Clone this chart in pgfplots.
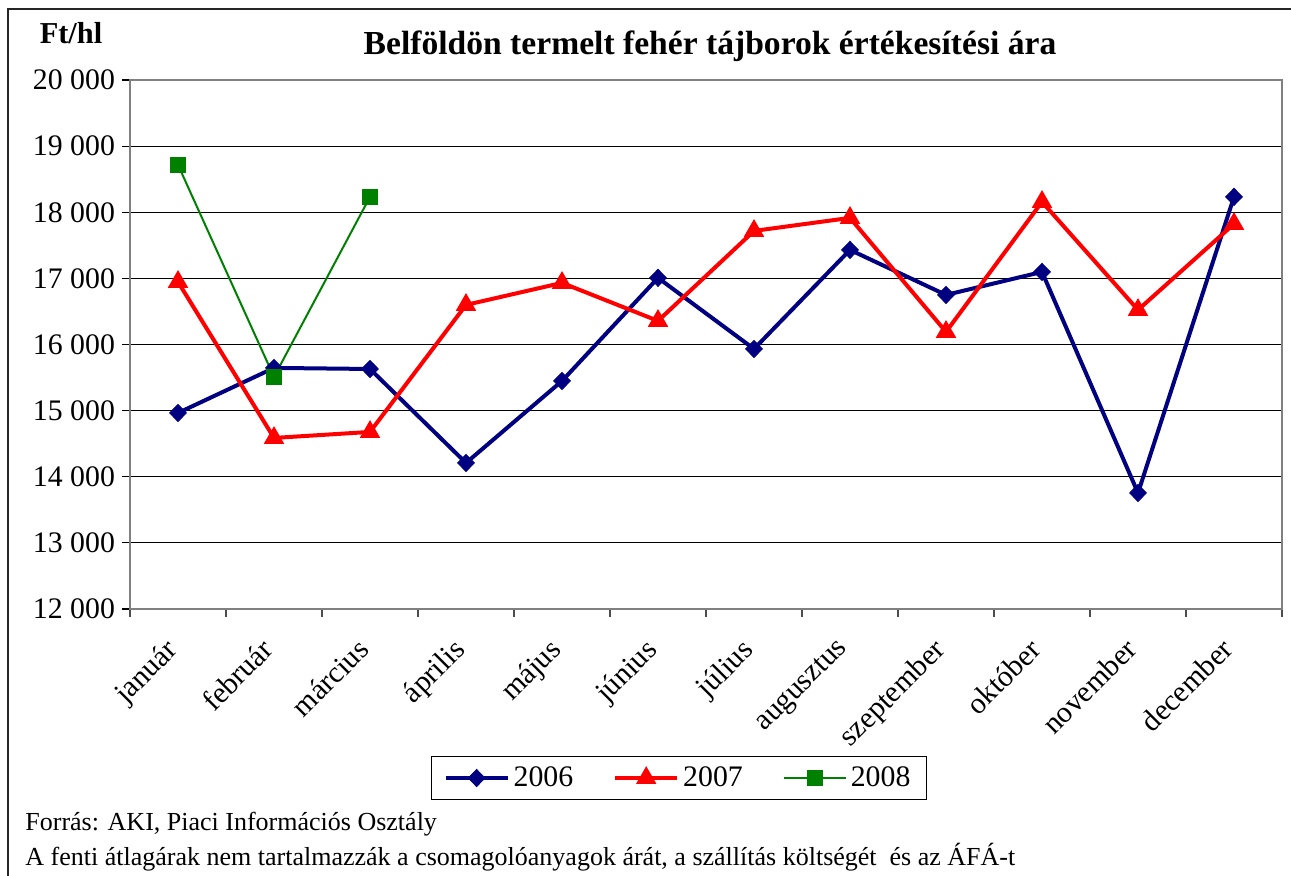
\documentclass[border=0pt]{standalone}
\usepackage{fontspec}
\setmainfont{Liberation Serif}
\usepackage{pgfplots}
\pgfplotsset{compat=1.18}
\definecolor{navy}{RGB}{0,0,128}
\definecolor{xred}{RGB}{255,0,0}
\definecolor{xgreen}{RGB}{0,128,0}
\begin{document}
\begin{tikzpicture}
\path[use as bounding box] (0,0) rectangle (645.5pt,437.5pt);
\draw[black!85, line width=0.9pt] (4pt,-20pt) rectangle (665pt,433pt);
\begin{axis}[
  at={(65pt,133pt)}, anchor=south west, scale only axis,
  width=576pt, height=264.5pt,
  xmin=0.5, xmax=12.5, ymin=12000, ymax=20000,
  scaled y ticks=false,
  xtick={1,...,12},
  xticklabels={január, február, március, április, május, június, július, augusztus, szeptember, október, november, december},
  minor xtick={0.5,1.5,...,12.5},
  ytick={12000,13000,...,20000},
  yticklabels={12 000,13 000,14 000,15 000,16 000,17 000,18 000,19 000,20 000},
  tick pos=left, tick align=outside,
  major tick length=4pt, minor tick length=4pt,
  major x tick style={draw=none},
  minor x tick style={draw=black!70, line width=0.6pt},
  major y tick style={draw=black, line width=0.6pt},
  axis line style={draw=black!50, line width=1pt},
  ymajorgrids, grid style={black, line width=0.5pt},
  tick label style={font=\fontsize{14.9}{17}\selectfont},
  yticklabel style={xshift=0pt},
  xticklabel style={xshift=-7pt, yshift=-5pt, rotate=45, anchor=north east},
  legend style={at={(0.4766,-0.3195)}, anchor=center, legend columns=3,
    draw=black, line width=0.6pt, inner xsep=6pt, inner ysep=3pt,
    font=\fontsize{14.9}{17}\selectfont,
    /tikz/every even column/.append style={column sep=18pt}},
  legend cell align=left,
  legend image code/.code={\draw[mark repeat=2,mark phase=2,#1] plot coordinates {(0pt,0pt) (15.5pt,0pt) (31pt,0pt)};},
]
\addplot[navy, line width=2pt, mark=diamond*, mark size=4.3pt, mark options={solid, xscale=1.3, line width=0.4pt, fill=navy}] coordinates {
(1,14965) (2,15646) (3,15630) (4,14209) (5,15449) (6,17008)
(7,15933) (8,17431) (9,16750) (10,17098) (11,13755) (12,18233)};
\addlegendentry{2006}
\addplot[xred, line width=2pt, mark=triangle*, mark size=5.5pt, mark options={solid, line width=0.4pt, fill=xred}] coordinates {
(1,16947) (2,14587) (3,14678) (4,16599) (5,16932) (6,16357)
(7,17718) (8,17915) (9,16191) (10,18157) (11,16523) (12,17824)};
\addlegendentry{2007}
\addplot[xgreen, line width=1pt, mark=square*, mark size=3.6pt, mark options={solid, line width=0.4pt, fill=xgreen}] coordinates {
(1,18717) (2,15510) (3,18233)};
\addlegendentry{2008}
\end{axis}
\node[anchor=base, font=\bfseries\fontsize{15.2}{18}\selectfont] at (35.5pt,415.5pt) {Ft/hl};
\node[anchor=base, font=\bfseries\fontsize{16.8}{20}\selectfont] at (355pt,410pt) {Belföldön termelt fehér tájborok értékesítési ára};
\node[anchor=base west, inner sep=0pt, font=\fontsize{13}{15}\selectfont] at (12.5pt,22.5pt) {Forrás: AKI, Piaci Információs Osztály};
\node[anchor=base west, inner sep=0pt, font=\fontsize{13}{15}\selectfont] at (12.5pt,5pt) {A fenti átlagárak nem tartalmazzák a csomagolóanyagok árát, a szállítás költségét\ \ és az ÁFÁ-t};
\end{tikzpicture}
\end{document}
